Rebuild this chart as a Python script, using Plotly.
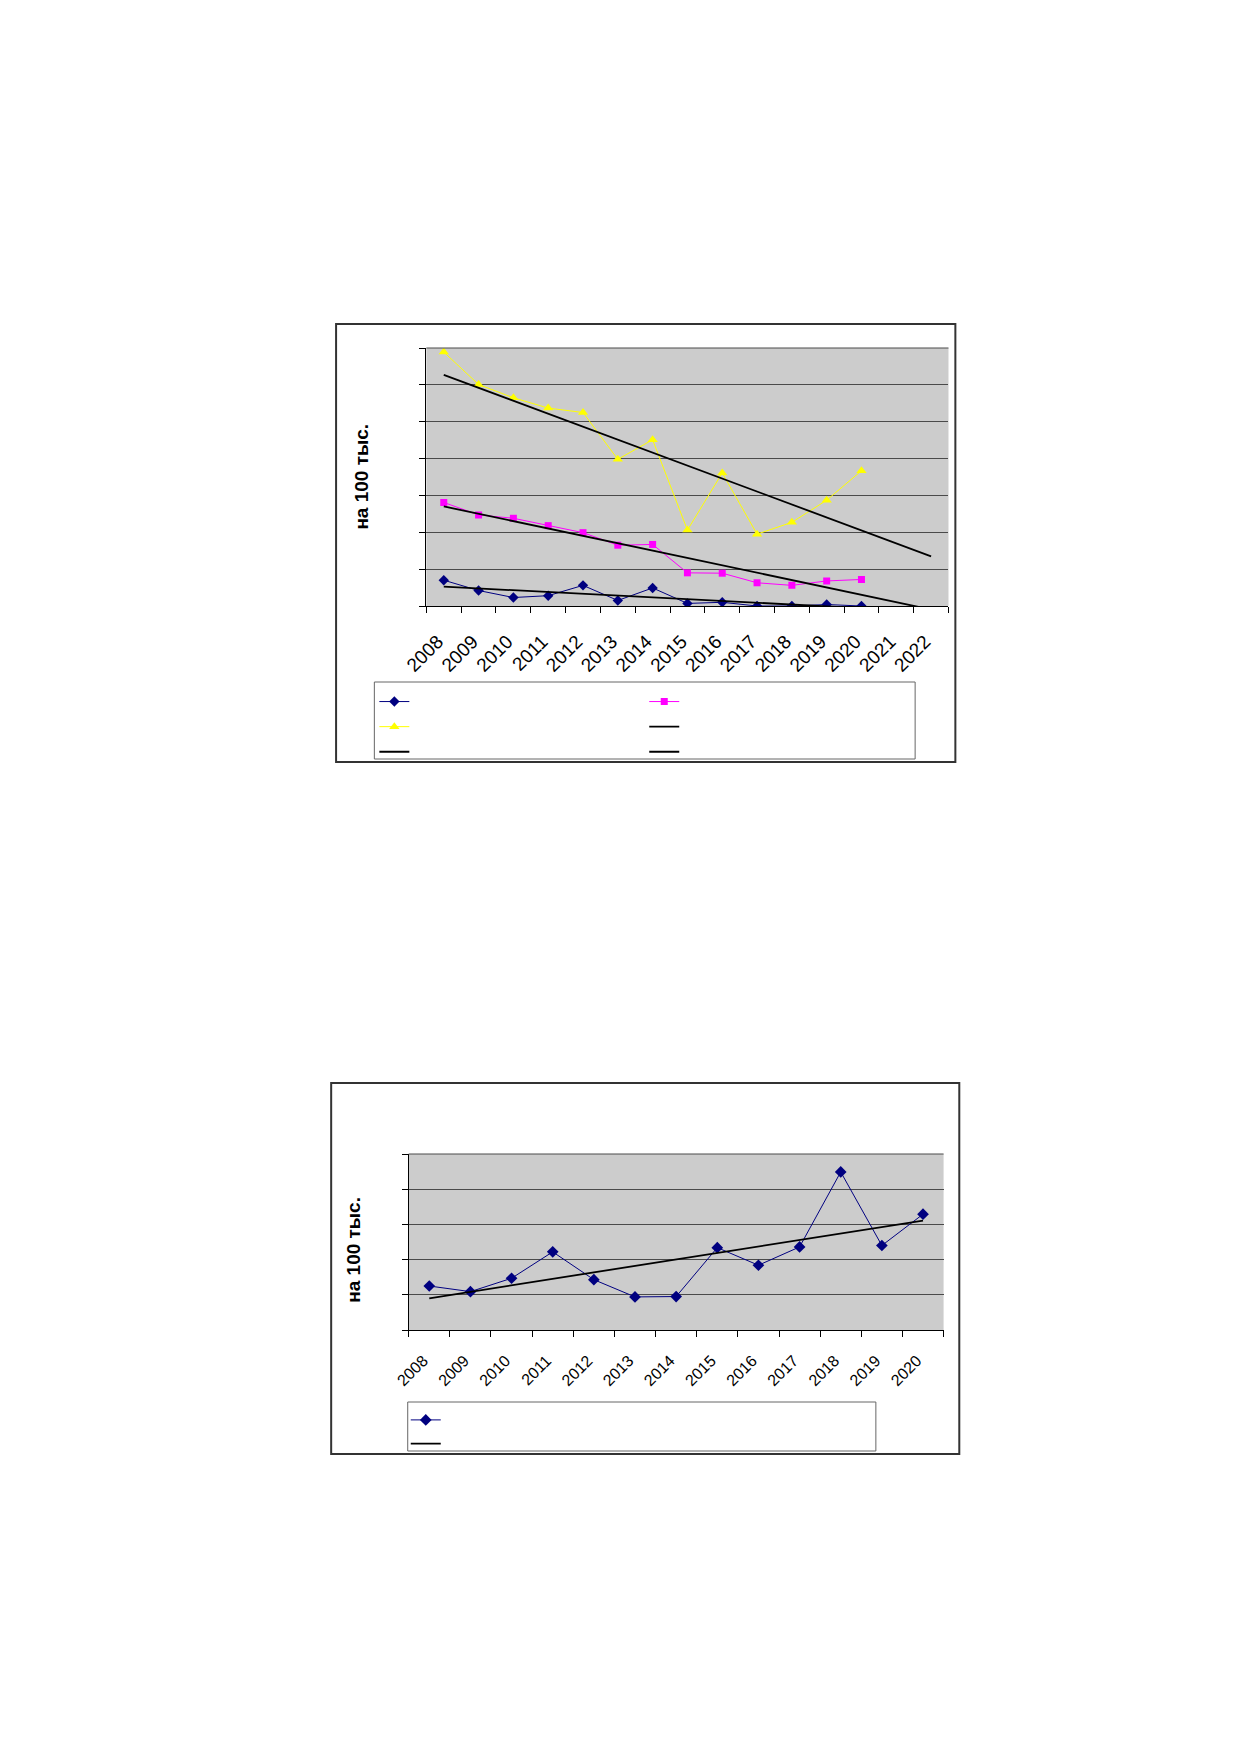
import numpy as np
import plotly.graph_objects as go

# categories
years_top = ['2008', '2009', '2010', '2011', '2012', '2013', '2014', '2015',
             '2016', '2017', '2018', '2019', '2020', '2021', '2022']
years_bottom = ['2008', '2009', '2010', '2011', '2012', '2013', '2014', '2015',
                '2016', '2017', '2018', '2019', '2020']

# top chart (grid units)
blue_top = [0.70, 0.42, 0.23, 0.28, 0.56, 0.15, 0.49, 0.07, 0.10, 0.00, 0.00, 0.04, 0.00]
magenta_top = [2.81, 2.47, 2.38, 2.18, 1.99, 1.65, 1.67, 0.90, 0.89, 0.63, 0.56, 0.68, 0.72]
yellow_top = [6.89, 6.01, 5.65, 5.37, 5.25, 3.98, 4.51, 2.06, 3.61, 1.95, 2.27, 2.87, 3.67]

# bottom chart
blue_bottom = [1.25, 1.09, 1.47, 2.22, 1.43, 0.94, 0.95, 2.34, 1.84, 2.36, 4.49, 2.40, 3.29]

W, H = 1239, 1752
FONT = 'Liberation Sans, Arial, sans-serif'


def px(x):
    return x / W


def py(y):
    return 1 - y / H


def trend(vals, n_out):
    # excel style linear trendline, forecast forward to n_out categories
    k, b = np.polyfit(np.arange(len(vals)), vals, 1)
    return k * np.arange(n_out) + b


fig = go.Figure()

# ---- top chart
fig.add_trace(go.Scatter(x=years_top[:13], y=blue_top, mode='lines+markers', name=' ',
                         line=dict(color='#000080', width=1),
                         marker=dict(symbol='diamond', size=8, color='#000080'),
                         xaxis='x', yaxis='y', legend='legend'))
fig.add_trace(go.Scatter(x=years_top[:13], y=magenta_top, mode='lines+markers', name=' ',
                         line=dict(color='#FF00FF', width=1),
                         marker=dict(symbol='square', size=7, color='#FF00FF'),
                         xaxis='x', yaxis='y', legend='legend2'))
fig.add_trace(go.Scatter(x=years_top[:13], y=yellow_top, mode='lines+markers', name=' ',
                         line=dict(color='#FFFF00', width=1),
                         marker=dict(symbol='triangle-up', size=9, color='#FFFF00'),
                         xaxis='x', yaxis='y', legend='legend'))
for vals, lg in [(blue_top, 'legend2'), (magenta_top, 'legend'), (yellow_top, 'legend2')]:
    fig.add_trace(go.Scatter(x=years_top, y=trend(vals, 15), mode='lines', name=' ',
                             line=dict(color='black', width=1.8),
                             xaxis='x', yaxis='y', legend=lg))

# ---- bottom chart
fig.add_trace(go.Scatter(x=years_bottom, y=blue_bottom, mode='lines+markers', name=' ',
                         line=dict(color='#000080', width=1),
                         marker=dict(symbol='diamond', size=9, color='#000080'),
                         xaxis='x2', yaxis='y2', legend='legend3'))
fig.add_trace(go.Scatter(x=years_bottom, y=trend(blue_bottom, 13), mode='lines', name=' ',
                         line=dict(color='black', width=1.8),
                         xaxis='x2', yaxis='y2', legend='legend3'))

xax = dict(type='category', showline=True, linecolor='black', linewidth=1,
           ticks='outside', ticklen=6, tickcolor='black', tickson='boundaries',
           tickangle=-45, showgrid=False, zeroline=False)
yax = dict(showline=True, linecolor='black', linewidth=1, ticks='outside', ticklen=6,
           tickcolor='black', showticklabels=False, dtick=1, showgrid=True,
           gridcolor='#4a4a4a', gridwidth=1, zeroline=False)

frames = [(319, 324, 950, 762), (314, 1083, 954, 1454)]
legboxes = [(358, 682, 909, 759), (392, 1402, 869, 1451)]
shapes = []
for x0, y0, x1, y1 in frames:
    shapes.append(dict(type='rect', xref='paper', yref='paper', x0=px(x0), x1=px(x1),
                       y0=py(y1), y1=py(y0), line=dict(color='#333333', width=2)))
for x0, y0, x1, y1 in legboxes:
    shapes.append(dict(type='rect', xref='paper', yref='paper', x0=px(x0), x1=px(x1),
                       y0=py(y1), y1=py(y0), line=dict(color='#666666', width=1)))
# top edge of the plot areas
for xr, yr in [('x domain', 'y domain'), ('x2 domain', 'y2 domain')]:
    shapes.append(dict(type='line', xref=xr, yref=yr, x0=0, x1=1, y0=1, y1=1,
                       line=dict(color='#4a4a4a', width=1)))

fig.update_layout(
    width=W, height=H, margin=dict(l=0, r=0, t=0, b=0),
    paper_bgcolor='white', plot_bgcolor='#CCCCCC',
    font=dict(family=FONT, color='black'),
    xaxis=dict(xax, domain=[px(411), px(943)], anchor='y', range=[-0.5, 14.5],
               categoryorder='array', categoryarray=years_top,
               tickfont=dict(family=FONT, size=19, color='black'),
               ticklabelstandoff=16, ticklabelshift=-6),
    yaxis=dict(yax, domain=[py(606), py(348)], anchor='x', range=[0, 7]),
    xaxis2=dict(xax, domain=[px(393), px(938)], anchor='y2', range=[-0.5, 12.5],
                categoryorder='array', categoryarray=years_bottom,
                tickfont=dict(family=FONT, size=16, color='black'),
                ticklabelstandoff=14, ticklabelshift=-6),
    yaxis2=dict(yax, domain=[py(1330), py(1154)], anchor='x2', range=[0, 5]),
    legend=dict(x=px(358), y=py(684), xanchor='left', yanchor='top',
                bgcolor='rgba(0,0,0,0)', borderwidth=0, font=dict(size=17)),
    legend2=dict(x=px(633), y=py(684), xanchor='left', yanchor='top',
                 bgcolor='rgba(0,0,0,0)', borderwidth=0, font=dict(size=17)),
    legend3=dict(x=px(390), y=py(1403), xanchor='left', yanchor='top',
                 bgcolor='rgba(0,0,0,0)', borderwidth=0, font=dict(size=16)),
    shapes=shapes,
    annotations=[
        dict(text='на 100 тыс.', textangle=-90, xref='paper', yref='paper',
             x=px(344), y=py(477), xanchor='center', yanchor='middle', showarrow=False,
             font=dict(family=FONT, size=19, color='black', weight='bold')),
        dict(text='на 100 тыс.', textangle=-90, xref='paper', yref='paper',
             x=px(336), y=py(1250), xanchor='center', yanchor='middle', showarrow=False,
             font=dict(family=FONT, size=19, color='black', weight='bold')),
    ],
)

# drop the default page margin so the figure sits at 0,0
fig.write_html('out.html', config={'displayModeBar': False},
               post_script="document.body.style.margin='0';")
